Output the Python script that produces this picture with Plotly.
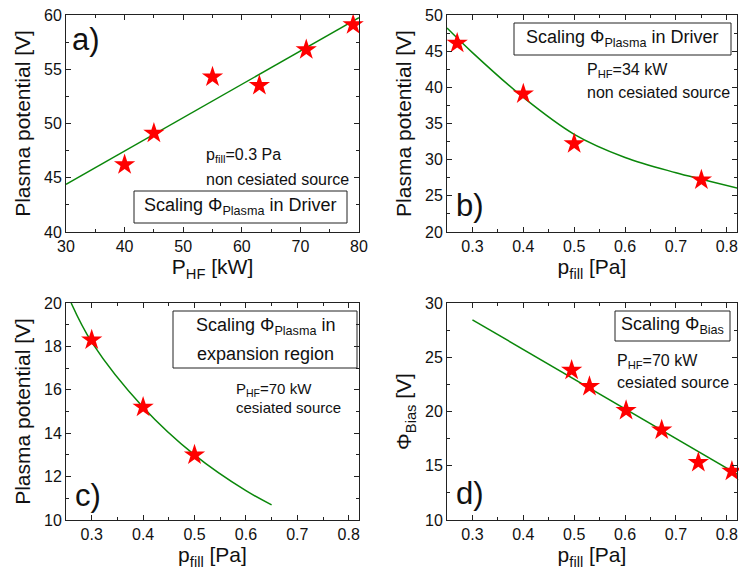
import plotly.graph_objects as go

W, H = 739, 577

# ---------------- data ----------------
# a) plasma potential vs HF power (p_fill = 0.3 Pa, non cesiated)
a_power = [40, 45, 55, 63, 71, 79]
a_phi = [46.2, 49.1, 54.3, 53.5, 56.8, 59.1]
a_fit_x = [30, 80]
a_fit_y = [44.4, 59.75]

# b) plasma potential vs filling pressure (P_HF = 34 kW, non cesiated)
b_p = [0.27, 0.40, 0.50, 0.75]
b_phi = [46.1, 39.1, 32.2, 27.2]
b_fit_x = [0.25, 0.30, 0.40, 0.50, 0.60, 0.70, 0.75, 0.83]
b_fit_y = [48.2, 44.8, 38.6, 33.5, 30.3, 28.2, 27.3, 25.9]

# c) plasma potential in expansion region (P_HF = 70 kW, cesiated)
c_p = [0.30, 0.40, 0.50]
c_phi = [18.3, 15.2, 13.0]
c_fit_x = [0.26, 0.30, 0.40, 0.50, 0.60, 0.65]
c_fit_y = [20.0, 18.2, 15.2, 13.0, 11.35, 10.7]

# d) bias potential (P_HF = 70 kW, cesiated)
d_p = [0.495, 0.53, 0.602, 0.672, 0.744, 0.81]
d_phi = [23.8, 22.3, 20.1, 18.3, 15.3, 14.5]
d_fit_x = [0.30, 0.83]
d_fit_y = [28.45, 13.95]

# axis ranges
a_xrange, a_yrange = [30, 80], [40, 60]
p_range = [0.25, 0.82]
b_yrange, c_yrange, d_yrange = [20, 50], [10, 20], [10, 30]

FONT = "Liberation Sans, Arial, sans-serif"
GREEN = "#0a870a"
RED = "#ff0000"
AX = "#222222"


def px(x):
    return x / W


def py(y):
    return 1 - y / H


fig = go.Figure()

panels = [
    ("x", "y", a_power, a_phi, a_fit_x, a_fit_y),
    ("x2", "y2", b_p, b_phi, b_fit_x, b_fit_y),
    ("x3", "y3", c_p, c_phi, c_fit_x, c_fit_y),
    ("x4", "y4", d_p, d_phi, d_fit_x, d_fit_y),
]
for xa, ya, xs, ys, fx, fy in panels:
    fig.add_trace(go.Scatter(x=fx, y=fy, xaxis=xa, yaxis=ya, mode="lines",
                             line=dict(color=GREEN, width=1.5, shape="spline", smoothing=1.0),
                             showlegend=False, hoverinfo="skip"))
    fig.add_trace(go.Scatter(x=xs, y=ys, xaxis=xa, yaxis=ya, mode="markers",
                             marker=dict(symbol="star", size=16, color=RED, line=dict(width=0)),
                             showlegend=False, cliponaxis=False))


def xaxis(domain, rng, dtick, mdtick, title, anchor, standoff=4):
    return dict(domain=domain, range=rng, anchor=anchor, dtick=dtick, tick0=0,
                showline=True, linecolor=AX, linewidth=1, mirror="ticks",
                ticks="inside", ticklen=5, tickcolor=AX, tickwidth=1,
                minor=dict(dtick=mdtick, ticks="inside", ticklen=3, tickcolor=AX, tickwidth=1),
                showgrid=False, zeroline=False,
                ticklabeloverflow="allow",
                tickfont=dict(family=FONT, size=16, color="#111"),
                title=dict(text=title, font=dict(family=FONT, size=21, color="#111"), standoff=standoff),
                automargin=False)


def yaxis(domain, rng, dtick, mdtick, title, anchor):
    return xaxis(domain, rng, dtick, mdtick, title, anchor, standoff=7)


xa_dom = [px(66), px(359)]
xb_dom = [px(447), px(737)]
yt_dom = [py(232), py(15)]
yb_dom = [py(520), py(303)]

fig.update_layout(
    width=W, height=H,
    margin=dict(l=0, r=0, t=0, b=0),
    paper_bgcolor="white", plot_bgcolor="white",
    font=dict(family=FONT, color="#111"),
    xaxis=xaxis(xa_dom, a_xrange, 10, 5, "P<sub>HF</sub> [kW]", "y"),
    yaxis=yaxis(yt_dom, a_yrange, 5, 2.5, "Plasma potential [V]", "x"),
    xaxis2=xaxis(xb_dom, p_range, 0.1, 0.05, "p<sub>fill</sub> [Pa]", "y2"),
    yaxis2=yaxis(yt_dom, b_yrange, 5, 2.5, "Plasma potential [V]", "x2"),
    xaxis3=xaxis(xa_dom, p_range, 0.1, 0.05, "p<sub>fill</sub> [Pa]", "y3"),
    yaxis3=yaxis(yb_dom, c_yrange, 2, 1, "Plasma potential [V]", "x3"),
    xaxis4=xaxis(xb_dom, p_range, 0.1, 0.05, "p<sub>fill</sub> [Pa]", "y4"),
    yaxis4=yaxis(yb_dom, d_yrange, 5, 2.5, "Φ<sub>Bias</sub> [V]", "x4"),
)

# boxes around the scaling labels
boxes = [(134, 191, 347, 223), (514, 23, 731, 55), (173, 311, 357, 368), (615, 311, 730, 341)]
for x0, y0, x1, y1 in boxes:
    fig.add_shape(type="rect", xref="paper", yref="paper",
                  x0=px(x0), x1=px(x1), y0=py(y1), y1=py(y0),
                  line=dict(color=AX, width=1), fillcolor="rgba(0,0,0,0)")


def ann(text, x, y, size, xanchor="left"):
    fig.add_annotation(text=text, x=px(x), y=py(y), xref="paper", yref="paper",
                       xanchor=xanchor, yanchor="middle", showarrow=False,
                       font=dict(family=FONT, size=size, color="#111"))


# panel letters
ann("a)", 70, 40, 31)
ann("b)", 454, 205, 31)
ann("c)", 73, 495, 31)
ann("d)", 454, 493, 31)

# boxed labels
ann("Scaling Φ<sub>Plasma</sub> in Driver", 240, 206, 18, "center")
ann("Scaling Φ<sub>Plasma</sub> in Driver", 622, 38, 18, "center")
ann("Scaling Φ<sub>Plasma</sub> in", 265, 326, 18, "center")
ann("expansion region", 265, 354, 18, "center")
ann("Scaling Φ<sub>Bias</sub>", 672, 325, 18, "center")

# conditions
ann("p<sub>fill</sub>=0.3 Pa", 204, 156, 16)
ann("non cesiated source", 204, 179, 16)
ann("P<sub>HF</sub>=34 kW", 585, 71, 16)
ann("non cesiated source", 585, 93, 16)
ann("P<sub>HF</sub>=70 kW", 234, 389, 15)
ann("cesiated source", 234, 407, 15)
ann("P<sub>HF</sub>=70 kW", 615, 361, 16)
ann("cesiated source", 615, 382, 16)

fig.write_html(
    "out.html",
    include_plotlyjs=True,
    config={"displayModeBar": False},
    post_script="document.body.style.margin='0';document.body.style.padding='0';"
                "document.body.style.overflow='hidden';",
)
